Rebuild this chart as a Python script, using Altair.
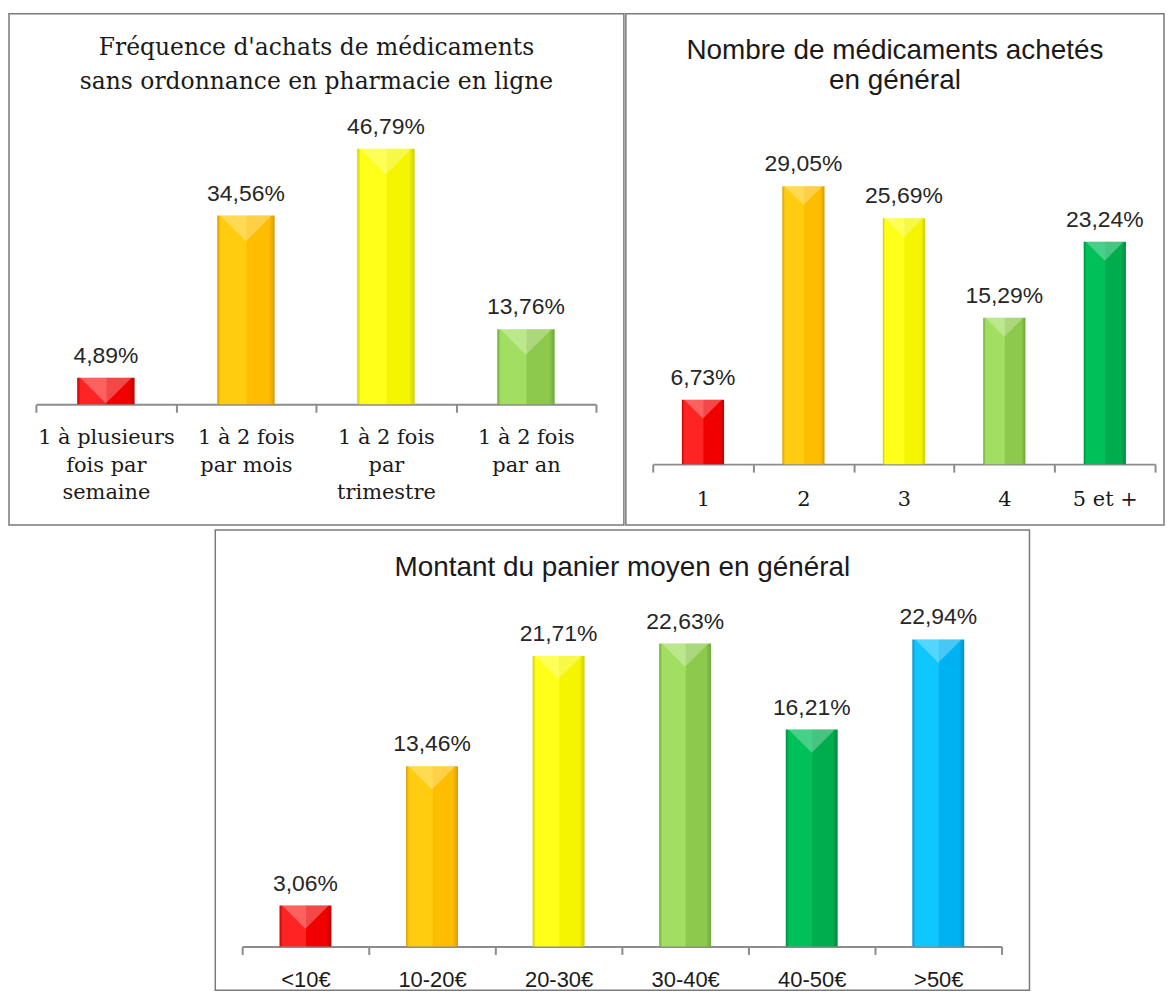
import altair as alt
import pandas as pd

# ---------------- data ----------------
freq_title = ["Fréquence d'achats de médicaments", "sans ordonnance en pharmacie en ligne"]
freq_cats = ["1 à plusieurs|fois par|semaine", "1 à 2 fois|par mois", "1 à 2 fois|par|trimestre", "1 à 2 fois|par an"]
freq_vals = [4.89, 34.56, 46.79, 13.76]
freq_colors = ["red", "orange", "yellow", "lightgreen"]

nb_title = ["Nombre de médicaments achetés", "en général"]
nb_cats = ["1", "2", "3", "4", "5 et +"]
nb_vals = [6.73, 29.05, 25.69, 15.29, 23.24]
nb_colors = ["red", "orange", "yellow", "lightgreen", "green"]

pan_title = "Montant du panier moyen en général"
pan_cats = ["<10€", "10-20€", "20-30€", "30-40€", "40-50€", ">50€"]
pan_vals = [3.06, 13.46, 21.71, 22.63, 16.21, 22.94]
pan_colors = ["red", "orange", "yellow", "lightgreen", "green", "cyan"]

# light (left half), base (right half), dark (edges)
PALETTE = {
    "red": ("#FF2424", "#F00000", "#C00000"),
    "orange": ("#FFCC10", "#FFBD00", "#D99A00"),
    "yellow": ("#FFFF1A", "#F5F500", "#CFCF00"),
    "lightgreen": ("#A2DE62", "#8DC94C", "#6EA83A"),
    "green": ("#00C05A", "#00AD4E", "#00883C"),
    "cyan": ("#10C6FF", "#00B2F2", "#0090C8"),
}

AXIS_GRAY = "#8c8c8c"
BORDER = "#7a7a7a"
TEXT = "#1a1a1a"


def panel(title_lines, title_font, title_size, title_lh, title_offset,
          cats, vals, colors, W, H, axis_top, px_per, x0, x1, bar_frac,
          axis_font, axis_size, axis_pad, axis_lh, val_font, val_size):
    labels = [f"{v:.2f}".replace(".", ",") + "%" for v in vals]
    df = pd.DataFrame({"cat": cats, "val": vals, "lab": labels, "col": colors})
    below = H - axis_top
    lo = -below / px_per
    hi = axis_top / px_per
    n = len(cats)
    bw = (x1 - x0) / n * bar_frac

    xenc = alt.X(
        "cat:N",
        scale=alt.Scale(domain=cats, range=[x0, x1], paddingInner=0, paddingOuter=0),
        axis=alt.Axis(
            title=None, orient="bottom", offset=-below, labelAngle=0,
            tickBand="extent", labelExpr="split(datum.label, '|')",
            labelFont=axis_font, labelFontSize=axis_size, labelPadding=axis_pad,
            labelLineHeight=axis_lh, labelLimit=0, labelColor=TEXT,
            labelBaseline="top", domainColor=AXIS_GRAY, domainWidth=2,
            tickColor=AXIS_GRAY, tickWidth=2, tickSize=8, grid=False,
        ),
    )
    yenc = alt.Y("val:Q", scale=alt.Scale(domain=[lo, hi], nice=False, zero=False), axis=None)

    base = alt.Chart(df)
    layers = []
    for c, col in zip(cats, colors):
        light, mid, dark = PALETTE[col]
        grad = alt.Gradient(
            gradient="linear", x1=0, y1=0, x2=1, y2=0,
            stops=[
                alt.GradientStop(offset=0, color=dark),
                alt.GradientStop(offset=0.06, color=light),
                alt.GradientStop(offset=0.5, color=light),
                alt.GradientStop(offset=0.52, color=mid),
                alt.GradientStop(offset=0.9, color=mid),
                alt.GradientStop(offset=1, color=dark),
            ],
        )
        layers.append(
            base.transform_filter(alt.FieldEqualPredicate(field="cat", equal=c))
            .mark_bar(color=grad, width=alt.RelativeBandSize(bar_frac))
            .encode(x=xenc, y=yenc, y2=alt.datum(0))
        )
    tri = base.mark_point(
        shape="M-1,0L1,0L0,1Z", filled=True, size=bw * bw * 0.8, color="white",
        opacity=0.28, strokeWidth=0,
    ).encode(x=xenc, y=yenc)
    txt = base.mark_text(
        font=val_font, fontSize=val_size, baseline="alphabetic", dy=-15, color="#262626"
    ).encode(x=xenc, y=yenc, text="lab:N")

    return alt.layer(*layers, tri, txt).properties(
        width=W, height=H,
        view=alt.ViewBackground(stroke=BORDER, strokeWidth=1.5),
        title=alt.TitleParams(
            text=title_lines, font=title_font, fontSize=title_size, fontWeight="normal",
            color=TEXT, anchor="middle", offset=title_offset, lineHeight=title_lh,
        ),
    )


p1 = panel(freq_title, "DejaVu Serif", 23.5, 34, -80,
           freq_cats, freq_vals, freq_colors, 617, 513, 392, 5.48, 27, 589, 0.41,
           "DejaVu Serif", 21, 14, 28, "Liberation Sans", 23)
p2 = panel(nb_title, "Liberation Sans", 28, 31, -82,
           nb_cats, nb_vals, nb_colors, 540, 513, 452, 9.6, 27, 531, 0.42,
           "DejaVu Serif", 21, 17, 28, "Liberation Sans", 23)
p3 = panel(pan_title, "Liberation Sans", 28, 32, -52,
           pan_cats, pan_vals, pan_colors, 817, 462, 418, 13.43, 27, 789, 0.41,
           "Liberation Sans", 22, 15, 26, "Liberation Sans", 23)

spacer = alt.Chart(pd.DataFrame({"v": [0]})).mark_point(opacity=0).encode(
    x=alt.X("v:Q", axis=None), y=alt.Y("v:Q", axis=None)
).properties(width=205, height=462, view=alt.ViewBackground(stroke="transparent"))

top = alt.hconcat(p1, p2, spacing=0)
bottom = alt.hconcat(spacer, p3, spacing=0)

chart = alt.vconcat(top, bottom, spacing=3).properties(
    padding={"left": 0, "right": 0, "top": 3, "bottom": 0}
).configure_view(stroke=BORDER, strokeWidth=1.5).configure(background="white")

chart.save("out.html", embed_options={"renderer": "svg", "actions": False})
